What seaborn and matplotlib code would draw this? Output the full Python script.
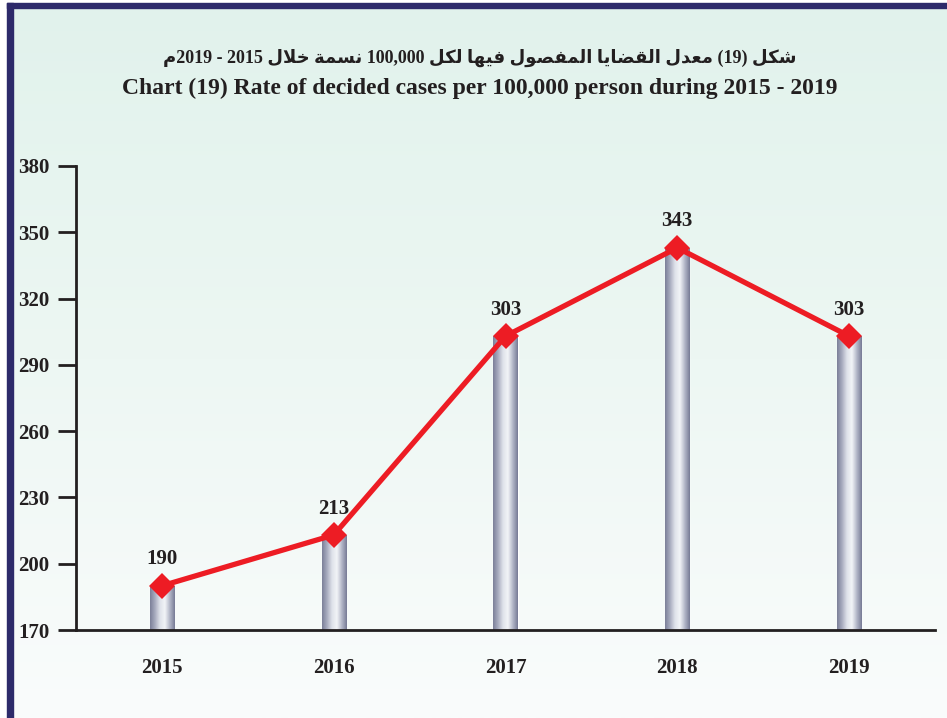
import numpy as np
import matplotlib
matplotlib.use("Agg")
import matplotlib.pyplot as plt
from matplotlib.colors import LinearSegmentedColormap
import seaborn as sns

# data
years = ["2015", "2016", "2017", "2018", "2019"]
rates = [190, 213, 303, 343, 303]
y_ticks = [170, 200, 230, 260, 290, 320, 350, 380]
title_en = "Chart (19) Rate of decided cases per 100,000 person during 2015 - 2019"

# minimal arabic shaping (matplotlib does no shaping / bidi)
FORMS = {
    "ا": ("\uFE8D", "\uFE8E", None, None),
    "د": ("\uFEA9", "\uFEAA", None, None),
    "و": ("\uFEED", "\uFEEE", None, None),
    "ة": ("\uFE93", "\uFE94", None, None),
    "LA": ("\uFEFB", "\uFEFC", None, None),
    "ش": ("\uFEB5", "\uFEB6", "\uFEB7", "\uFEB8"),
    "ك": ("\uFED9", "\uFEDA", "\uFEDB", "\uFEDC"),
    "ل": ("\uFEDD", "\uFEDE", "\uFEDF", "\uFEE0"),
    "م": ("\uFEE1", "\uFEE2", "\uFEE3", "\uFEE4"),
    "ع": ("\uFEC9", "\uFECA", "\uFECB", "\uFECC"),
    "ق": ("\uFED5", "\uFED6", "\uFED7", "\uFED8"),
    "ض": ("\uFEBD", "\uFEBE", "\uFEBF", "\uFEC0"),
    "ي": ("\uFEF1", "\uFEF2", "\uFEF3", "\uFEF4"),
    "ف": ("\uFED1", "\uFED2", "\uFED3", "\uFED4"),
    "ص": ("\uFEB9", "\uFEBA", "\uFEBB", "\uFEBC"),
    "ه": ("\uFEE9", "\uFEEA", "\uFEEB", "\uFEEC"),
    "ن": ("\uFEE5", "\uFEE6", "\uFEE7", "\uFEE8"),
    "س": ("\uFEB1", "\uFEB2", "\uFEB3", "\uFEB4"),
    "خ": ("\uFEA5", "\uFEA6", "\uFEA7", "\uFEA8"),
}


def shape(word):
    chars = []
    i = 0
    while i < len(word):
        if word[i] == "ل" and i + 1 < len(word) and word[i + 1] == "ا":
            chars.append("LA")
            i += 2
        else:
            chars.append(word[i])
            i += 1
    out = []
    for i, c in enumerate(chars):
        f = FORMS[c]
        jp = i > 0 and FORMS[chars[i - 1]][2] is not None
        jn = i + 1 < len(chars) and f[2] is not None
        if jp and jn:
            g = f[3]
        elif jp:
            g = f[1]
        elif jn:
            g = f[2]
        else:
            g = f[0]
        out.append(g)
    return "".join(reversed(out))


# visual (left to right) order of: شكل (19) معدل القضايا المفصول فيها لكل 100,000 نسمة خلال 2015 - 2019م
title_ar = ("\uFEE1" + "2019 - 2015 " + shape("خلال") + " " + shape("نسمة") + " 100,000 "
            + shape("لكل") + " " + shape("فيها") + " " + shape("المفصول") + " "
            + shape("القضايا") + " " + shape("معدل") + " (19) " + shape("شكل"))

sns.set_theme(style="white")
plt.rcParams["font.family"] = ["Liberation Serif", "DejaVu Sans"]
plt.rcParams["font.weight"] = "bold"
txt = "#231f20"

fig = plt.figure(figsize=(9.47, 7.18), dpi=100)

# background panel with gradient and navy frame
bg = fig.add_axes([0, 0, 1, 1], zorder=-2)
grad = LinearSegmentedColormap.from_list("bg", ["#e1f2ec", "#edf7f3", "#fafcfc"])
bg.imshow(np.linspace(0, 1, 256)[:, None], aspect="auto", cmap=grad,
          extent=[0, 947, 718, 0])
bg.fill_between([0, 947], 0, 3, color="white")
bg.fill_between([0, 7], 0, 718, color="white")
bg.fill_between([7, 947], 3, 7.5, color="#2d2a6a")
bg.fill_between([7, 12.5], 3, 718, color="#2d2a6a")
bg.set_xlim(0, 947)
bg.set_ylim(718, 0)
bg.axis("off")

ax = fig.add_axes([76 / 947, 1 - 630 / 718, (935 - 76) / 947, (630 - 166) / 718])
ax.set_facecolor("none")

sns.barplot(x=years, y=rates, width=0.14, color="#a0a4b8", ax=ax, zorder=2)
ax.set_ylim(170, 380)
bar_cmap = LinearSegmentedColormap.from_list(
    "bar", ["#7c8099", "#a9adc0", "#dfe2ea", "#f2f4f7", "#b3b7c8", "#787c96"])
ybot = ax.get_ylim()[0]
for p in ax.patches:
    x0 = p.get_x()
    x1, y1 = x0 + p.get_width(), p.get_height()
    im = ax.imshow(np.linspace(0, 1, 64)[None, :], aspect="auto", cmap=bar_cmap,
                   extent=[x0, x1, ybot, y1], zorder=2.1)
    im.set_clip_path(p)

sns.pointplot(x=years, y=rates, color="#ed1c24", markers="D", markersize=13,
              linewidth=3.8, errorbar=None, ax=ax, zorder=4)
for ln in ax.lines:
    ln.set_markeredgewidth(0)

for i, v in enumerate(rates):
    ax.annotate(str(v), (i, v), xytext=(0, 19), textcoords="offset points",
                ha="center", va="center", fontsize=15, fontweight="bold", color=txt)

ax.set_xlim(-0.5, 4.5)
ax.set_ylim(170, 380)
ax.set_yticks(y_ticks)
ax.set_yticklabels([str(t) for t in y_ticks])
ax.set_xticks(range(len(years)))
ax.set_xticklabels(years)
ax.set_xticks(np.arange(0.5, 4.6, 1), minor=True)
ax.tick_params(axis="x", which="major", length=0, pad=20, labelsize=15, labelcolor=txt)
ax.tick_params(axis="x", which="minor", length=8, width=2, color=txt, direction="out")
ax.tick_params(axis="y", length=13, width=2, color=txt, direction="out", pad=6,
               labelsize=15, labelcolor=txt, left=True)
ax.set_xlabel("")
ax.set_ylabel("")
for s in ["top", "right"]:
    ax.spines[s].set_visible(False)
for s in ["left", "bottom"]:
    ax.spines[s].set_linewidth(2)
    ax.spines[s].set_color(txt)
    ax.spines[s].set_zorder(5)

fig.text(480 / 947, 1 - 58 / 718, title_ar, ha="center", va="center", fontsize=13,
         fontweight="bold", color=txt)
fig.text(480 / 947, 1 - 88 / 718, title_en, ha="center", va="center", fontsize=17,
         fontweight="bold", color=txt)

fig.savefig("out.png", dpi=100)
